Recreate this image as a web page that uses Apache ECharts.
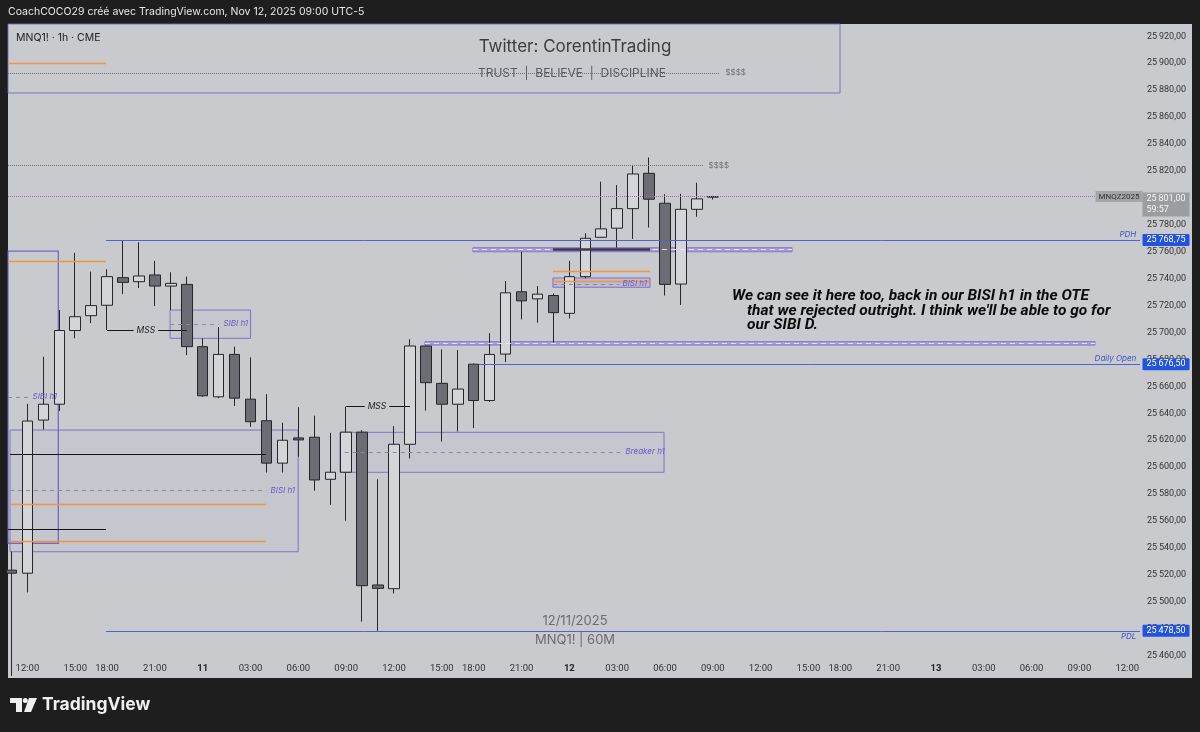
<!DOCTYPE html>
<html><head><meta charset="utf-8">
<script src="https://cdn.jsdelivr.net/npm/echarts@6/dist/echarts.min.js"></script>
<style>html,body{margin:0;padding:0;background:#1e1e1e;}#c{width:1200px;height:732px;}</style>
</head><body><div id="c"></div>
<script>
// ---- data (hourly bars, index 0 = Nov 10 12:00) ----
const barIdx = [-1,0,1,2,3,4,5,6,7,8,9,10,11,12,13,14,15,16,17,18,19,20,21,22,23,24,25,26,27,28,29,30,31,32,33,34,35,36,37,38,39,40,41,42,43];
const openP  = [25523.5,25521.25,25635,25646.75,25701.5,25712.5,25720.25,25740.75,25737.75,25742.75,25734.5,25735.75,25689.5,25652.25,25683.75,25650.5,25634.5,25603,25621.75,25622.25,25591,25596.25,25626,25512.5,25509.75,25617,25690,25662.25,25646.75,25676.5,25649.5,25684,25730.25,25725,25727.5,25714.25,25741.5,25770.75,25777.5,25792,25818.25,25796,25736,25791.5,25800.5];
const highP  = [25537.25,25647,25682,25716.75,25759.25,25745.25,25747,25768.75,25767,25753.25,25744.75,25741.5,25695.75,25704,25689.5,25681.5,25654.25,25633,25644.5,25638.25,25625.5,25645,25627.5,25591,25630.5,25695,25690.5,25687.5,25687,25677,25699.5,25738.25,25760,25734.5,25729,25753.25,25773.75,25812,25809.5,25824.5,25830,25802.75,25803,25811.25,25801.5];
const lowP   = [25445,25507,25628,25641.75,25695.75,25707,25701.75,25728.5,25733,25719.75,25716.75,25683.25,25652.25,25651.25,25645.5,25630,25596,25596,25607.75,25582.5,25572,25560.25,25485.25,25478.5,25506.25,25606.5,25642,25619,25626.5,25629,25648.5,25678,25709.75,25707.25,25692.5,25710.5,25740.25,25770.5,25763,25769.5,25778,25727.5,25720.5,25786,25798.75];
const closeP = [25521.25,25634.25,25646.75,25701.5,25711.75,25720,25741.5,25737.25,25742,25734.5,25736.5,25689.5,25653,25683.75,25651.25,25633.75,25603,25620,25620.25,25590.5,25596.25,25626,25512,25510,25617,25690,25662.75,25646.75,25658,25649.5,25683.75,25729.5,25723.5,25728.5,25714.75,25741.5,25770,25777,25792,25817.75,25799,25735.75,25791.5,25799.25,25801];
const tickIdx  = [0,3,5,8,11,14,17,20,23,26,28,31,34,37,40,43,46,49,51,54,57,60,63,66,69];
const tickText = ['12:00','15:00','18:00','21:00','11','03:00','06:00','09:00','12:00','15:00','18:00','21:00','12','03:00','06:00','09:00','12:00','15:00','18:00','21:00','13','03:00','06:00','09:00','12:00'];
const dayTicks = ['11','12','13'];
const PDH = 25768.75, DAILY_OPEN = 25676.5, PDL = 25478.5, LAST = 25801, LIQ = 25824, LIQ_TOP = 25892.75;

// ---- axis extents ----
const XMIN = -1.217, XMAX = 69.8, YMIN = 25456.8, YMAX = 25929.13;

const BG = '#c9cace';
const candles = barIdx.map((x,i)=>[x, openP[i], closeP[i], lowP[i], highP[i]]);
const tickMap = {}; tickIdx.forEach((t,i)=>{tickMap[t]=tickText[i];});
function fmt(v){
  const s = v.toFixed(2).split('.');
  return s[0].replace(/\B(?=(\d{3})+(?!\d))/g,'\u2009') + ',' + s[1];
}
const cp = o => JSON.parse(JSON.stringify(o));
const LAV = 'rgba(112,102,196,0.85)';
const boxStyle = {color:'rgba(120,110,210,0.03)', borderColor:LAV, borderWidth:1};
const bandStyle = {color:'rgba(140,125,220,0.55)', borderColor:'rgba(125,110,210,0.9)', borderWidth:1};
function box(x1,y1,x2,y2,st){ return [{coord:[x1,y1], itemStyle:cp(st)},{coord:[x2,y2]}]; }
function hl(x1,x2,y,st){ return [{coord:[x1,y], lineStyle:cp(st)},{coord:[x2,y]}]; }
function tx(x,y,text,pos,lab){ return {coord:[x,y], symbol:'circle', symbolSize:1, itemStyle:{color:'rgba(0,0,0,0)'}, label:Object.assign({show:true, position:pos, distance:0, formatter:text}, cp(lab))}; }

const dotted = {type:'dotted', color:'#6f6f74', width:1};
const orange = {type:'solid', color:'#f09540', width:1.4};
const blue = {type:'solid', color:'#4d63d4', width:1};
const dashG = {type:[4,4], color:'#8b8b98', width:1};
const dashW = {type:[5,4], color:'rgba(235,235,250,0.9)', width:1};
const blk = {type:'solid', color:'#151515', width:1};
const purpleTxt = {color:'#6a58c0', fontStyle:'italic', fontSize:8, fontFamily:'Inter'};
const blueTxt = {color:'#3f55c8', fontStyle:'italic', fontSize:8, fontFamily:'Inter'};
const axBox = {color:'#fff', fontSize:9, fontFamily:'Roboto', backgroundColor:'#2152e0', padding:[2,4,1,4], borderRadius:1, distance:2};
const noteFont = 'italic bold 15.5px Roboto';

const option = {
  animation:false,
  backgroundColor:'#1e1e1e',
  grid:{left:8, right:60, top:24, bottom:72},
  xAxis:{type:'value', min:XMIN, max:XMAX, splitNumber:70, minInterval:1, maxInterval:1,
    axisLine:{show:false}, axisTick:{show:false}, splitLine:{show:false},
    axisLabel:{margin:4, fontSize:9.5, color:'#333', fontFamily:'Roboto', showMinLabel:false, showMaxLabel:false,
      formatter:v=>{const r=Math.round(v); if(Math.abs(v-r)>1e-6) return ''; const t=tickMap[r]; if(!t) return ''; return dayTicks.includes(t)?'{b|'+t+'}':t;},
      rich:{b:{fontWeight:'bold', fontSize:9.5, color:'#222', fontFamily:'Roboto'}}}},
  yAxis:{type:'value', position:'right', min:YMIN, max:YMAX, splitNumber:24, minInterval:20, maxInterval:20,
    axisLine:{show:false}, axisTick:{show:false}, splitLine:{show:false},
    axisLabel:{margin:7, fontSize:9, color:'#333', fontFamily:'Roboto', showMinLabel:false, showMaxLabel:false,
      formatter:v=>{const r=Math.round(v); if(Math.abs(v-r)>1e-6||r%20!==0) return ''; return fmt(r);}}},
  graphic:{elements:[
    {type:'rect', z:-10, shape:{x:8,y:24,width:1184,height:654}, style:{fill:BG}},
    {type:'text', z:5, x:8, y:12, style:{text:'CoachCOCO29 créé avec TradingView.com, Nov 12, 2025 09:00 UTC-5', fill:'#e8e8e8', font:'10.5px Inter', textVerticalAlign:'middle'}},
    {type:'text', z:5, x:16, y:38, style:{text:'MNQ1! · 1h · CME', fill:'#222', font:'10.5px Inter', textVerticalAlign:'middle'}},
    {type:'text', z:5, x:575, y:47, style:{text:'Twitter: CorentinTrading', fill:'#3d3d40', font:'17px Inter', textAlign:'center', textVerticalAlign:'middle'}},
    {type:'text', z:5, x:572, y:73, style:{text:'TRUST  |  BELIEVE  |  DISCIPLINE', fill:'#5a5a5e', font:'12px Inter', textAlign:'center', textVerticalAlign:'middle'}},
    {type:'text', z:5, x:575, y:621, style:{text:'12/11/2025', fill:'#6c6c70', font:'13px Inter', textAlign:'center', textVerticalAlign:'middle'}},
    {type:'text', z:5, x:575, y:640, style:{text:'MNQ1! | 60M', fill:'#6c6c70', font:'13px Inter', textAlign:'center', textVerticalAlign:'middle'}},
    {type:'text', z:5, x:732, y:296, style:{text:'We can see it here too, back in our BISI h1 in the OTE', fill:'#0a0a0a', font:noteFont, textVerticalAlign:'middle'}},
    {type:'text', z:5, x:747, y:311, style:{text:"that we rejected outright. I think we'll be able to go for", fill:'#0a0a0a', font:noteFont, textVerticalAlign:'middle'}},
    {type:'text', z:5, x:747, y:325, style:{text:'our SIBI D.', fill:'#0a0a0a', font:noteFont, textVerticalAlign:'middle'}},
    {type:'rect', z:5, shape:{x:10,y:698,width:12,height:5}, style:{fill:'#f0f0f0'}},
    {type:'rect', z:5, shape:{x:16,y:698,width:6,height:14}, style:{fill:'#f0f0f0'}},
    {type:'circle', z:5, shape:{cx:25.3,cy:700.5,r:2.5}, style:{fill:'#f0f0f0'}},
    {type:'polygon', z:5, shape:{points:[[29,698],[37,698],[31,712],[24,712]]}, style:{fill:'#f0f0f0'}},
    {type:'text', z:5, x:42, y:705, style:{text:'TradingView', fill:'#f0f0f0', font:'bold 17.5px Inter', textVerticalAlign:'middle'}}
  ]},
  series:[
    {type:'line', data:[], z:2, clip:false, silent:true,
      markArea:{silent:true, label:{show:false}, data:[
        box(XMIN, YMAX, 50.98, 25877.9, {color:'rgba(0,0,0,0)', borderColor:LAV, borderWidth:1}),
        box(XMIN, 25760.5, 1.94, 25543.5, {color:'rgba(0,0,0,0)', borderColor:'rgba(100,90,190,0.85)', borderWidth:1.3}),
        box(8.95, 25716.7, 14.0, 25695.7, boxStyle),
        box(-1.09, 25627.6, 16.99, 25537.2, boxStyle),
        box(19.61, 25625.9, 39.94, 25596.2, boxStyle),
        box(32.97, 25740.5, 39.06, 25733.6, {color:'rgba(150,140,225,0.25)', borderColor:LAV, borderWidth:1}),
        box(27.95, 25763, 47.97, 25760, bandStyle),
        box(24.94, 25693.2, 66.98, 25690.7, bandStyle)
      ]},
      markLine:{silent:true, symbol:['none','none'], label:{show:false}, data:[
        hl(XMIN, 43.45, LIQ_TOP, dotted),
        hl(XMIN, 42.38, LIQ, dotted),
        hl(XMIN, 66.98, LAST, {type:'dotted', color:'#a06aae', width:1}),
        hl(4.93, XMAX, PDH, blue),
        hl(28.33, XMAX, DAILY_OPEN, blue),
        hl(4.93, XMAX, PDL, blue),
        hl(XMIN, 4.93, 25900.25, orange),
        hl(XMIN, 4.93, 25753.1, orange),
        hl(-1.09, 14.97, 25572.7, orange),
        hl(-1.09, 14.97, 25545.2, orange),
        hl(32.97, 39.06, 25745.5, orange),
        hl(32.97, 39.06, 25738.0, orange),
        hl(-1.09, 14.97, 25609.6, blk),
        hl(XMIN, 4.93, 25553.9, blk),
        hl(27.95, 47.97, 25761.5, dashW),
        hl(24.94, 66.98, 25692, dashW),
        hl(32.97, 39.06, 25761.5, {type:'solid', color:'#3b3a4e', width:2.5}),
        hl(XMIN, 0.16, 25652.3, dashG),
        hl(8.95, 12.0, 25706.3, dashG),
        hl(-1.09, 15.0, 25582.5, dashG),
        hl(32.97, 37.1, 25736, dashG),
        hl(19.9, 37.18, 25611.3, dashG),
        hl(5, 10, 25701.75, blk),
        hl(20, 24, 25645, blk)
      ]},
      markPoint:{silent:true, data:[
        tx(43.76, LIQ_TOP, '$$$$', 'right', {color:'#6f6f74', fontSize:8, fontFamily:'Inter'}),
        tx(42.7, LIQ, '$$$$', 'right', {color:'#6f6f74', fontSize:8, fontFamily:'Inter'}),
        tx(0.29, 25652.3, 'SIBI h1', 'right', purpleTxt),
        tx(12.27, 25706.3, 'SIBI h1', 'right', purpleTxt),
        tx(15.22, 25582.5, 'BISI h1', 'right', purpleTxt),
        tx(37.3, 25736, 'BISI h1', 'right', purpleTxt),
        tx(37.49, 25611.3, 'Breaker h1', 'right', purpleTxt),
        tx(7.43, 25701.75, 'MSS', 'inside', {color:'#222', fontStyle:'italic', fontSize:8.5, fontFamily:'Inter', backgroundColor:BG, padding:[0,3]}),
        tx(21.93, 25645, 'MSS', 'inside', {color:'#222', fontStyle:'italic', fontSize:8.5, fontFamily:'Inter', backgroundColor:BG, padding:[0,3]}),
        tx(69.6, 25772.6, 'PDH', 'left', blueTxt),
        tx(69.6, 25680.4, 'Daily Open', 'left', blueTxt),
        tx(69.6, 25474, 'PDL', 'left', blueTxt),
        tx(66.98, LAST, 'MNQZ2025', 'right', {color:'#333', fontSize:8, fontFamily:'Roboto', backgroundColor:'#a4a5a9', padding:[2,3,1,3]}),
        tx(XMAX, LAST, fmt(LAST)+'\n59:57', 'right', {color:'#f4f4f4', fontSize:9, lineHeight:11, fontFamily:'Roboto', backgroundColor:'#9c9da1', padding:[1,4,1,4], distance:2, offset:[0,8], align:'left'}),
        tx(XMAX, PDH, fmt(PDH), 'right', axBox),
        tx(XMAX, DAILY_OPEN, fmt(DAILY_OPEN), 'right', axBox),
        tx(XMAX, PDL, fmt(PDL), 'right', axBox)
      ]}
    },
    {type:'candlestick', z:3, data:candles, barWidth:11,
      itemStyle:{color:'#d4d5d9', color0:'#6c6d74', borderColor:'#262626', borderColor0:'#262626', borderWidth:1}}
  ]
};
const chart = echarts.init(document.getElementById('c'));
chart.setOption(option);
</script>
</body></html>
